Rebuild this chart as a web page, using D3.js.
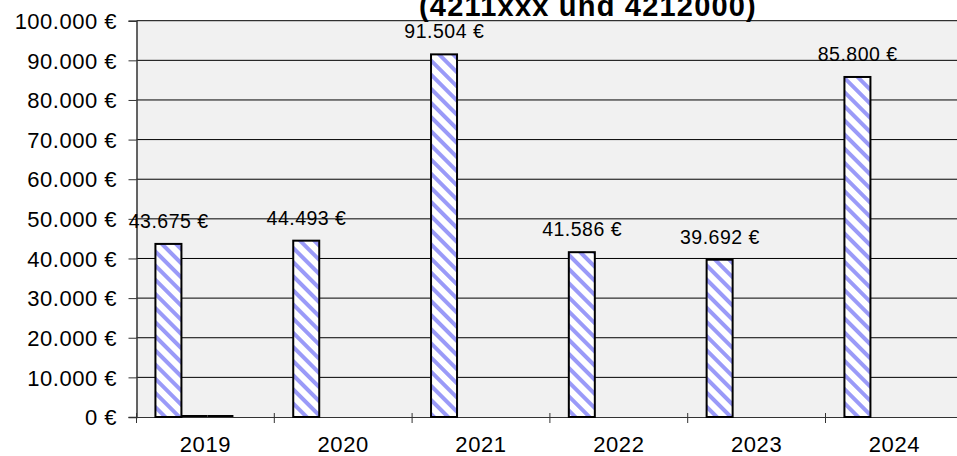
<!DOCTYPE html>
<html>
<head>
<meta charset="utf-8">
<script src="https://cdn.jsdelivr.net/npm/d3@7"></script>
<style>
  body { margin: 0; background: #fff; }
  svg { display: block; font-family: Arial, "Liberation Sans", sans-serif; }
</style>
</head>
<body>
<svg width="957" height="456"></svg>
<script>
// chart values
var years = ["2019", "2020", "2021", "2022", "2023", "2024"];
var seriesNames = ["s1", "s2", "s3", "s4"];
var s1 = [43675, 44493, 91504, 41586, 39692, 85800];
var s2 = [0, null, null, null, null, null];
var s3 = [0, null, null, null, null, null];
var s4 = [null, null, null, null, null, null];
var yTicks = [0, 10000, 20000, 30000, 40000, 50000, 60000, 70000, 80000, 90000, 100000];
var titleText = "(4211xxx und 4212000)";

var seriesValues = [s1, s2, s3, s4];

var svg = d3.select("svg");

// note: "top" is window.top, so the plot edges get other names
var plotLeft = 136.5, plotTop = 20.7, plotBottom = 417, step = 137.8;

var x0 = d3.scaleBand()
  .domain(years)
  .range([plotLeft, plotLeft + step * years.length])
  .paddingInner(0)
  .paddingOuter(0);

var x1 = d3.scaleBand()
  .domain(seriesNames)
  .range([0, x0.bandwidth()])
  .paddingInner(0)
  .paddingOuter(0.65)
  .align(0.56);

var y = d3.scaleLinear()
  .domain([0, 100000])
  .range([plotBottom, plotTop]);

var fmt = d3.formatLocale({decimal: ",", thousands: ".", grouping: [3], currency: ["", " €"]}).format("$,.0f");

// stripe pattern for the bars (downward diagonal)
var defs = svg.append("defs");
var pat = defs.append("pattern")
  .attr("id", "stripes")
  .attr("patternUnits", "userSpaceOnUse")
  .attr("width", 10)
  .attr("height", 10)
  .attr("patternTransform", "rotate(-45)");
pat.append("rect").attr("width", 10).attr("height", 10).attr("fill", "#ffffff");
pat.append("rect").attr("width", 4).attr("height", 10).attr("fill", "#9a9af8");

// plot area background
svg.append("rect")
  .attr("x", plotLeft)
  .attr("y", plotTop)
  .attr("width", 957 - plotLeft)
  .attr("height", plotBottom - plotTop)
  .attr("fill", "#f1f1f1");

// gridlines
svg.append("g")
  .selectAll("line")
  .data(yTicks.slice(1))
  .enter().append("line")
    .attr("x1", plotLeft)
    .attr("x2", 957)
    .attr("y1", function(d) { return y(d); })
    .attr("y2", function(d) { return y(d); })
    .attr("stroke", "#000")
    .attr("stroke-width", 1);

// y axis
var yAxis = svg.append("g")
  .attr("transform", "translate(" + plotLeft + ",0)")
  .call(d3.axisLeft(y).tickValues(yTicks).tickSize(8).tickPadding(11.5).tickFormat(fmt));
yAxis.select(".domain").attr("stroke", "#333").attr("stroke-width", 1.5);
yAxis.selectAll(".tick line").attr("stroke", "#333");
yAxis.selectAll("text")
  .attr("font-size", "22px")
  .attr("letter-spacing", "0.5px")
  .attr("fill", "#000")
  .attr("dy", "0.35em")
  .attr("font-family", "Arial, 'Liberation Sans', sans-serif");

// x axis
var xAxis = svg.append("g")
  .attr("transform", "translate(0," + plotBottom + ")")
  .call(d3.axisBottom(x0).tickSize(0).tickPadding(19));
xAxis.select(".domain").attr("stroke", "#333").attr("stroke-width", 1);
xAxis.selectAll("text")
  .attr("font-size", "22px")
  .attr("letter-spacing", "0.6px")
  .attr("fill", "#000")
  .attr("font-family", "Arial, 'Liberation Sans', sans-serif");

// category separator ticks
svg.append("g")
  .selectAll("line")
  .data(years)
  .enter().append("line")
    .attr("x1", function(d) { return x0(d); })
    .attr("x2", function(d) { return x0(d); })
    .attr("y1", plotBottom - 4)
    .attr("y2", plotBottom + 6)
    .attr("stroke", "#333");

// bars
var bars = [];
seriesValues.forEach(function(vals, si) {
  vals.forEach(function(v, i) {
    if (v !== null) bars.push({year: years[i], series: seriesNames[si], value: v});
  });
});

var barG = svg.append("g");
barG.selectAll("rect")
  .data(bars.filter(function(d) { return d.value > 0; }))
  .enter().append("rect")
    .attr("x", function(d) { return x0(d.year) + x1(d.series); })
    .attr("y", function(d) { return y(d.value); })
    .attr("width", x1.bandwidth())
    .attr("height", function(d) { return y(0) - y(d.value); })
    .attr("fill", "url(#stripes)")
    .attr("stroke", "#000")
    .attr("stroke-width", 2);

barG.selectAll("line")
  .data(bars.filter(function(d) { return d.value === 0; }))
  .enter().append("line")
    .attr("x1", function(d) { return x0(d.year) + x1(d.series); })
    .attr("x2", function(d) { return x0(d.year) + x1(d.series) + x1.bandwidth(); })
    .attr("y1", y(0) - 1)
    .attr("y2", y(0) - 1)
    .attr("stroke", "#000")
    .attr("stroke-width", 2);

// value labels
svg.append("g")
  .selectAll("text")
  .data(bars.filter(function(d) { return d.value > 0; }))
  .enter().append("text")
    .attr("x", function(d) { return x0(d.year) + x1(d.series) + x1.bandwidth() / 2 + 0.3; })
    .attr("y", function(d) { return y(d.value) - 16; })
    .attr("text-anchor", "middle")
    .attr("font-size", "19.5px")
    .attr("letter-spacing", "0.5px")
    .attr("fill", "#000")
    .text(function(d) { return fmt(d.value); });

// title (upper line falls outside the picture)
svg.append("text")
  .attr("x", 588)
  .attr("y", 16)
  .attr("text-anchor", "middle")
  .attr("font-size", "29px")
  .attr("font-weight", "bold")
  .attr("letter-spacing", "1.2px")
  .attr("fill", "#000")
  .text(titleText);
</script>
</body>
</html>
